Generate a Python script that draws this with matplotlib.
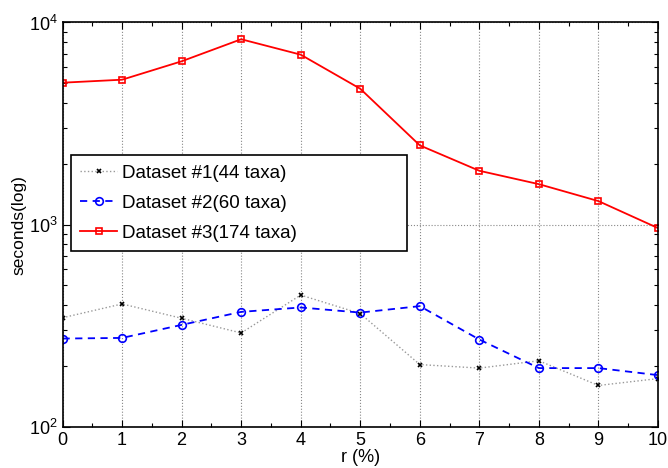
import matplotlib
matplotlib.use("Agg")
import matplotlib.pyplot as plt
from matplotlib.ticker import MultipleLocator, LogLocator, NullFormatter

plt.rcParams['font.family'] = ['Liberation Sans', 'DejaVu Sans']

r = [0, 1, 2, 3, 4, 5, 6, 7, 8, 9, 10]
ds1 = [346, 405, 344, 291, 448, 363, 203, 195, 212, 160, 173]
ds2 = [273, 275, 319, 370, 389, 367, 395, 270, 195, 195, 180]
ds3 = [5035, 5210, 6425, 8260, 6930, 4700, 2466, 1846, 1585, 1307, 961]
labels = ['Dataset #1(44 taxa)', 'Dataset #2(60 taxa)', 'Dataset #3(174 taxa)']

fig = plt.figure(figsize=(6.68, 4.68), dpi=100)
ax = fig.add_axes([0.0936, 0.0882, 0.8914, 0.8638])

ax.plot(r, ds1, linestyle=':', color='#999999', linewidth=1.0,
        marker='x', markersize=3.5, markeredgecolor='black', markeredgewidth=1.2,
        label=labels[0])
ax.plot(r, ds2, linestyle='--', color='blue', linewidth=1.3, dashes=(4, 3),
        marker='o', markersize=5.5, markerfacecolor='none', markeredgecolor='blue',
        markeredgewidth=1.2, label=labels[1])
ax.plot(r, ds3, linestyle='-', color='red', linewidth=1.3,
        marker='s', markersize=5, markerfacecolor='none', markeredgecolor='red',
        markeredgewidth=1.2, label=labels[2])

ax.set_yscale('log')
ax.set_xlim(0, 10)
ax.set_ylim(100, 10000)
ax.xaxis.set_major_locator(MultipleLocator(1))
ax.xaxis.set_minor_locator(MultipleLocator(0.5))
ax.yaxis.set_major_locator(LogLocator(base=10, numticks=5))
ax.yaxis.set_minor_locator(LogLocator(base=10, subs=range(2, 10), numticks=20))
ax.yaxis.set_minor_formatter(NullFormatter())

ax.tick_params(which='both', direction='in', top=True, right=True, labelsize=13)
ax.tick_params(which='major', length=5, width=0.8)
ax.tick_params(which='minor', length=3, width=0.8)
ax.grid(True, which='major', linestyle=':', color='#888888', linewidth=0.8)
for s in ax.spines.values():
    s.set_linewidth(1.2)

ax.set_xlabel('r (%)', fontsize=13, labelpad=0)
ax.set_ylabel('seconds(log)', fontsize=12.5, labelpad=2)

leg = ax.legend(loc='upper left', bbox_to_anchor=(0.0134, 0.445, 0.565, 0.227),
                mode='expand', fontsize=13.5,
                frameon=True, fancybox=False, edgecolor='black', framealpha=1,
                handlelength=2.0, handletextpad=0.25, borderpad=0.5, labelspacing=0.7,
                borderaxespad=0)
leg.get_frame().set_linewidth(1.2)

fig.savefig('out.png', dpi=100)
